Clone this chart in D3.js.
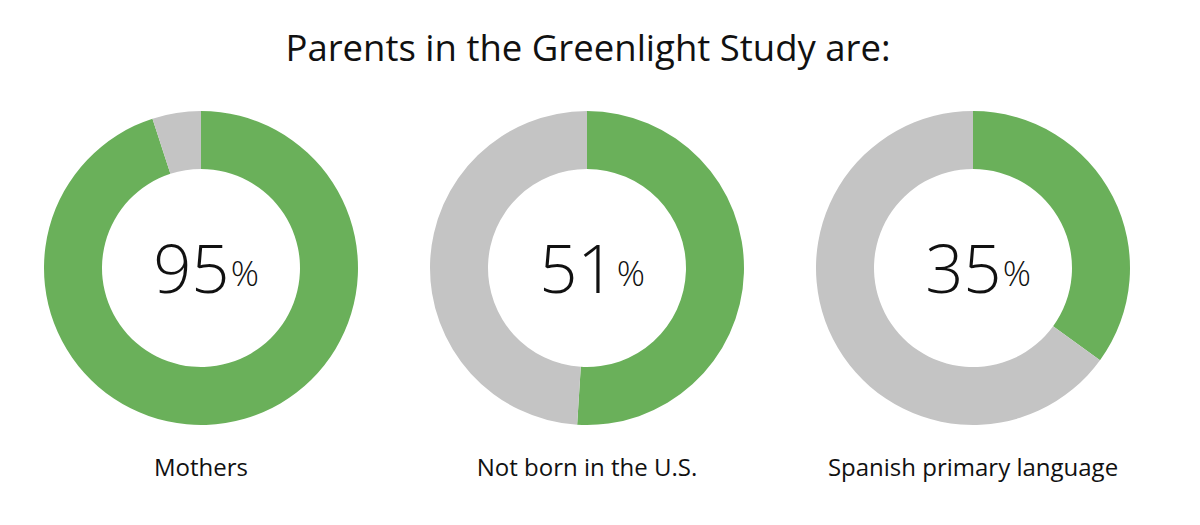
<!DOCTYPE html>
<html>
<head>
<meta charset="utf-8">
<script src="https://cdn.jsdelivr.net/npm/d3@7"></script>
<style>
  body { margin: 0; background: #fff; }
</style>
</head>
<body>
<svg id="chart"></svg>
<script>
// data
const title = "Parents in the Greenlight Study are:"
const categories = ["Mothers", "Not born in the U.S.", "Spanish primary language"]
const percents = [95, 51, 35]

const colors = { yes: "#6ab05a", no: "#c4c4c4" }

var dimensions = {
    width: 1200,
    height: 525,
    margin: { left: 44, right: 70 },
    centerY: 268,
    outer: 157,
    inner: 99
}

var svg = d3.select("#chart")
            .attr("width", dimensions.width)
            .attr("height", dimensions.height)

var xScale = d3.scalePoint()
               .domain(categories)
               .range([dimensions.margin.left + dimensions.outer, dimensions.width - dimensions.margin.right - dimensions.outer])

svg.append("text")
   .attr("x", 588)
   .attr("y", 61)
   .attr("text-anchor", "middle")
   .style("font-family", "'Open Sans', sans-serif")
   .style("font-size", "36.5px")
   .attr("fill", "#111")
   .text(title)

var pie = d3.pie().sort(null).value(d => d)
var arc = d3.arc().innerRadius(dimensions.inner).outerRadius(dimensions.outer)

var donuts = svg.selectAll("g.donut")
                .data(categories)
                .enter()
                .append("g")
                .attr("class", "donut")
                .attr("transform", d => `translate(${xScale(d)}, ${dimensions.centerY})`)

donuts.selectAll("path")
      .data((d, i) => pie([percents[i], 100 - percents[i]]))
      .enter()
      .append("path")
      .attr("d", arc)
      .attr("fill", (d, i) => i === 0 ? colors.yes : colors.no)

// big number, then a smaller raised percent sign
var num = donuts.append("text")
                .attr("x", 5)
                .attr("y", 25)
                .attr("text-anchor", "middle")
                .style("font-family", "'Open Sans', sans-serif")
                .style("font-weight", 300)
                .attr("fill", "#111")

num.append("tspan")
   .style("font-size", "67px")
   .text((d, i) => percents[i])

num.append("tspan")
   .attr("dx", 1)
   .attr("dy", -7)
   .style("font-size", "35px")
   .text("%")

donuts.append("text")
      .attr("y", 208)
      .attr("text-anchor", "middle")
      .style("font-family", "'Open Sans', sans-serif")
      .style("font-size", "24px")
      .attr("fill", "#111")
      .text(d => d)
</script>
</body>
</html>
